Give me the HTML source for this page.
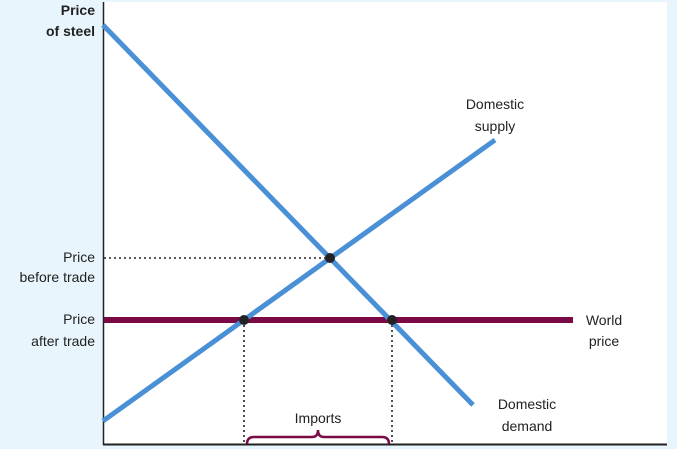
<!DOCTYPE html>
<html><head><style>
body{margin:0;background:#e8f5fc;}
svg{display:block;font-family:"Liberation Sans",sans-serif;}
</style></head><body>
<svg width="677" height="449" viewBox="0 0 677 449">
<rect x="0" y="0" width="677" height="449" fill="#e8f5fc"/>
<rect x="103" y="2" width="564" height="443" fill="#fff"/>
<line x1="103.5" y1="2" x2="103.5" y2="445" stroke="#222" stroke-width="1.5"/>
<line x1="103" y1="444.5" x2="667" y2="444.5" stroke="#222" stroke-width="2"/>
<line x1="104" y1="258" x2="330" y2="258" stroke="#222" stroke-width="1.6" stroke-dasharray="2,3"/>
<line x1="244" y1="320" x2="244" y2="444" stroke="#222" stroke-width="1.6" stroke-dasharray="2,3"/>
<line x1="392" y1="320" x2="392" y2="444" stroke="#222" stroke-width="1.6" stroke-dasharray="2,3"/>
<line x1="104" y1="320" x2="573" y2="320" stroke="#7a0a45" stroke-width="6"/>
<line x1="103" y1="25" x2="473" y2="405" stroke="#4a90d6" stroke-width="5"/>
<line x1="103" y1="421" x2="495" y2="140" stroke="#4a90d6" stroke-width="5"/>
<circle cx="330" cy="258" r="5" fill="#222"/>
<circle cx="244" cy="320" r="5" fill="#222"/>
<circle cx="392" cy="320" r="5" fill="#222"/>
<path d="M247,444 Q247,437 254,437 L312,437 Q318,437 318,430 Q318,437 324,437 L382,437 Q389,437 389,444" fill="none" stroke="#7a0a45" stroke-width="2.5"/>
<g font-size="14" fill="#222" text-anchor="end">
<text x="95" y="15" font-weight="bold">Price</text>
<text x="95" y="36" font-weight="bold">of steel</text>
<text x="95" y="262">Price</text>
<text x="95" y="282">before trade</text>
<text x="95" y="324">Price</text>
<text x="95" y="346">after trade</text>
</g>
<g font-size="14" fill="#222" text-anchor="middle">
<text x="495" y="109">Domestic</text>
<text x="495" y="131">supply</text>
<text x="604" y="325">World</text>
<text x="604" y="346">price</text>
<text x="527" y="409">Domestic</text>
<text x="527" y="431">demand</text>
<text x="318" y="423">Imports</text>
</g>
</svg>
</body></html>
